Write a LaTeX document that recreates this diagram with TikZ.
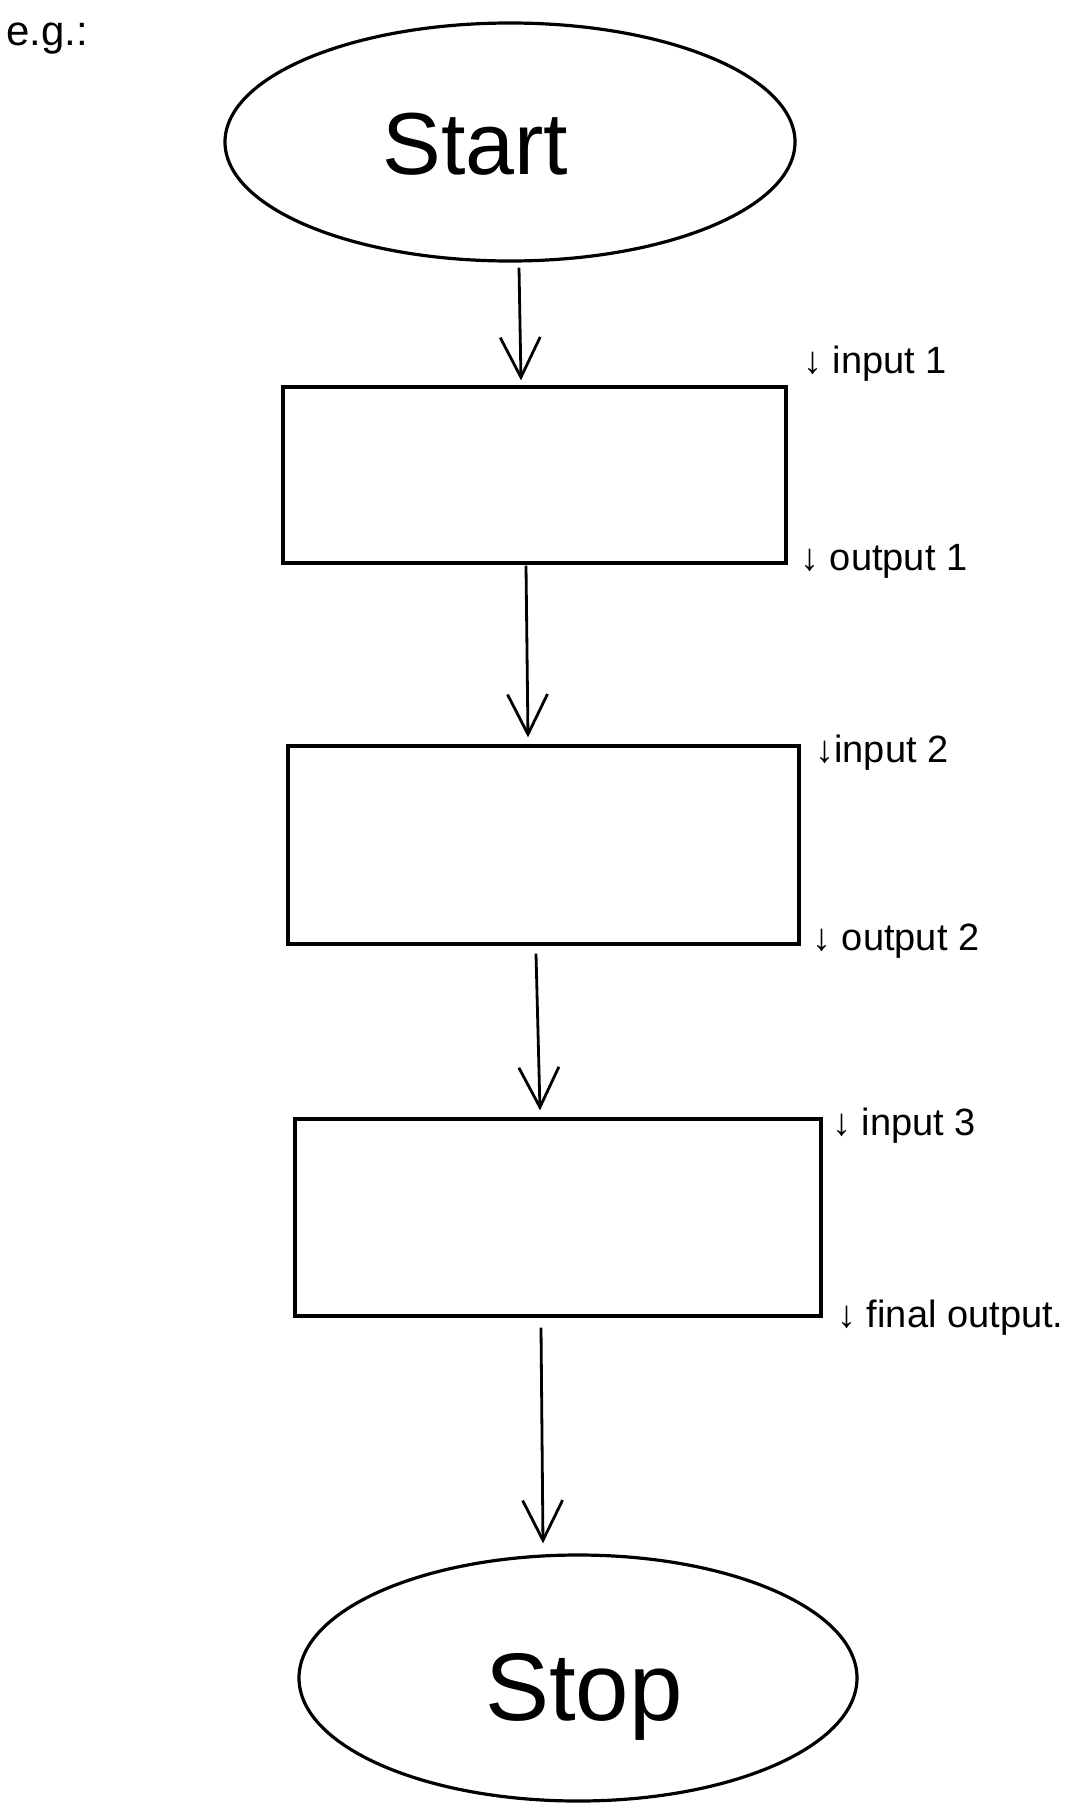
\documentclass[tikz,border=0pt]{standalone}
\usepackage{fontspec}
\setmainfont{Liberation Sans}
\usetikzlibrary{arrows.meta,shapes.geometric}
\begin{document}
\begin{tikzpicture}[x=0.5pt,y=-0.5pt,
  outline/.style={draw=black,line width=1.6pt},
  terminal/.style={outline,ellipse,inner sep=0pt},
  stepbox/.style={outline,rectangle,inner sep=0pt},
  flow/.style={line width=1.4pt,-{Straight Barb[length=20pt,width=20pt,line width=1.4pt]}},
  note/.style={anchor=base west,inner sep=0pt,font=\fontsize{19pt}{21pt}\selectfont},
  big/.style={anchor=base west,inner sep=0pt}]
\useasboundingbox (0,0) rectangle (1084,1815);
\fill[white] (0,0) rectangle (1084,1815);

\node[note,font=\fontsize{21pt}{23pt}\selectfont] (eg) at (6,45) {e.g.:};

% start and stop terminals
\node[terminal,minimum width=285pt,minimum height=119pt] (start) at (510,142) {};
\node[big,font=\fontsize{44pt}{48pt}\selectfont] (starttxt) at (382,174) {Start};
\node[terminal,minimum width=279pt,minimum height=123pt] (stop) at (578,1678) {};
\node[big,anchor=base,font=\fontsize{48pt}{52pt}\selectfont] (stoptxt) at (584,1720) {Stop};

% processing steps
\node[stepbox,minimum width=251.5pt,minimum height=88pt] (b1) at (534.5,475) {};
\node[stepbox,minimum width=255.5pt,minimum height=99pt] (b2) at (543.5,845) {};
\node[stepbox,minimum width=263pt,minimum height=98.5pt] (b3) at (558,1217.5) {};

% flow arrows
\draw[flow] ([shift={(9,5)}]start.south) -- ([shift={(-13.5,-5)}]b1.north);
\draw[flow] ([shift={(-8.5,1)}]b1.south) -- ([shift={(-15.5,-7)}]b2.north);
\draw[flow] ([shift={(-7.5,8)}]b2.south) -- ([shift={(-18,-7)}]b3.north);
\draw[flow] ([shift={(-17,10)}]b3.south) -- ([shift={(-35,-10)}]stop.north);

% data labels beside the steps
\node[note] (in1) at (803,373) {↓ input 1};
\node[note] (out1) at (800,570) {↓ output 1};
\node[note] (in2) at (815,762) {↓input 2};
\node[note] (out2) at (812,950) {↓ output 2};
\node[note] (in3) at (832,1135) {↓ input 3};
\node[note] (fin) at (837,1327) {↓ final output.};
\end{tikzpicture}
\end{document}
